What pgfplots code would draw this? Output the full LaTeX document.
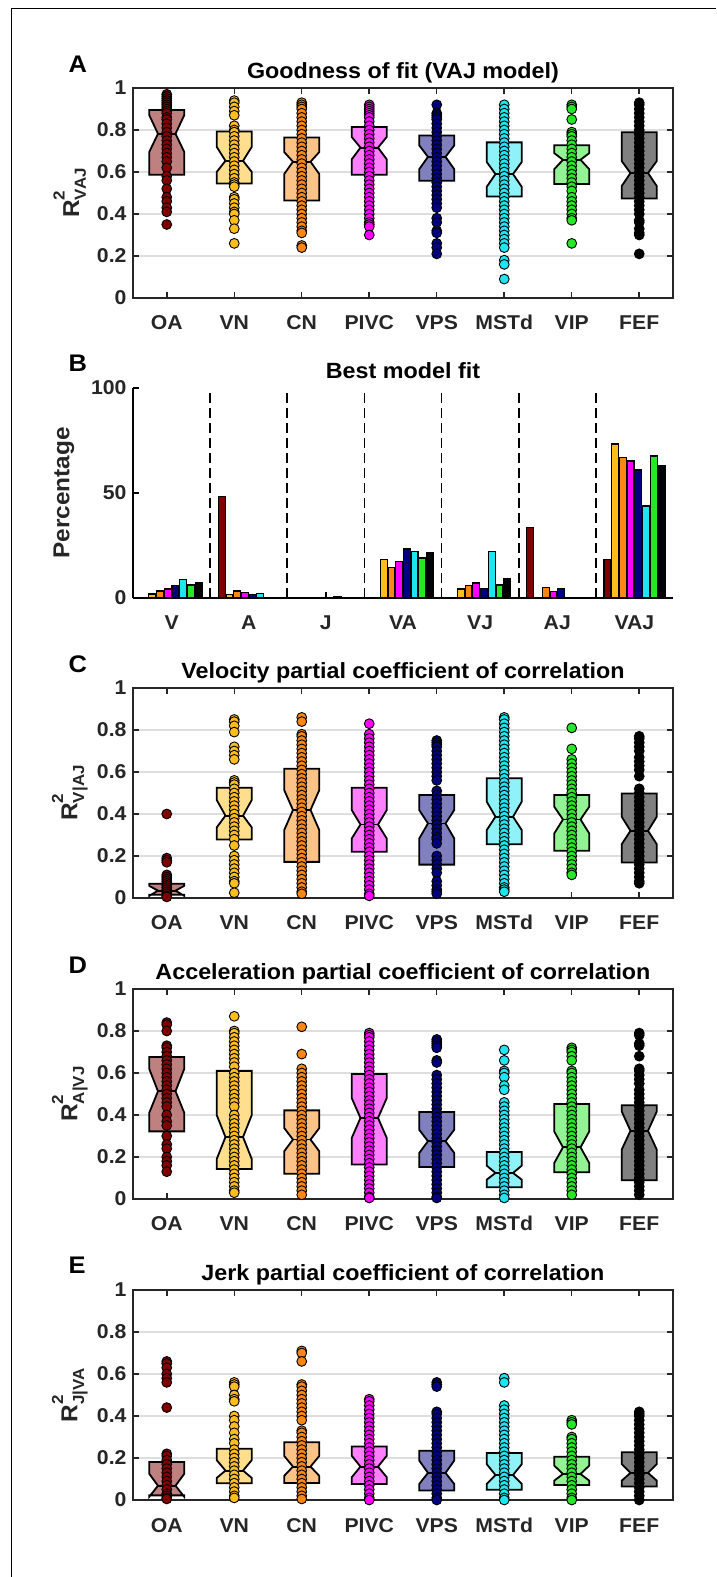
\documentclass[border=0pt]{standalone}
\usepackage{fontspec}
\setmainfont{Liberation Sans}[FakeStretch=1.06]
\usepackage{pgfplots}
\pgfplotsset{compat=1.18}

% area colours
\definecolor{cOA}{RGB}{128,0,0}
\definecolor{cVN}{RGB}{255,190,30}
\definecolor{cCN}{RGB}{250,135,20}
\definecolor{cPIVC}{RGB}{255,0,255}
\definecolor{cVPS}{RGB}{0,0,128}
\definecolor{cMSTd}{RGB}{30,230,240}
\definecolor{cVIP}{RGB}{40,230,40}
\definecolor{cFEF}{RGB}{0,0,0}
\definecolor{axgray}{RGB}{38,38,38}

\newcommand\tickfont{\fontsize{20}{20}\selectfont\bfseries}
\newcommand\titlefont{\fontsize{22}{22}\selectfont\bfseries}
\newcommand\letterfont{\fontsize{24}{24}\selectfont\bfseries}
\newcommand\labfont{\fontsize{23}{23}\selectfont\bfseries}

% R^2 with a subscript, set in text
\newcommand\Rlab[1]{R\makebox[0pt][l]{\raisebox{0.62em}{\fontsize{16}{16}\selectfont 2}}\raisebox{-0.30em}{\fontsize{16}{16}\selectfont #1}}

% notched box: x, q1, notch low, median, notch high, q3, colour
\newcommand\nbox[7]{%
  \pgfmathsetmacro\xa{#1-0.26}\pgfmathsetmacro\xb{#1+0.26}%
  \pgfmathsetmacro\xc{#1-0.13}\pgfmathsetmacro\xd{#1+0.13}%
  \edef\nboxcmd{\noexpand\addplot[draw=black, line width=1.8pt, fill=#7!50!white, line join=miter]
    coordinates {(\xa,#2) (\xa,#3) (\xc,#4) (\xa,#5) (\xa,#6) (\xb,#6) (\xb,#5) (\xd,#4) (\xb,#3) (\xb,#2)} -- cycle;
    \noexpand\addplot[draw=black, line width=1.8pt] coordinates {(\xc,#4) (\xd,#4)};}%
  \nboxcmd}

% individual cells of one area: x, colour, values
\newcommand\pts[3]{\addplot[only marks, mark=*, mark size=4.9pt,
   mark options={fill=#2, draw=black, line width=0.9pt}]
   table[row sep=\\, x expr=#1, y index=0] {#3};}

\pgfplotsset{
  boxpanel/.style={
    scale only axis, width=540pt, height=210pt, anchor=south west,
    xmin=0.5, xmax=8.5, ymin=0, ymax=1, clip=false,
    xtick={1,...,8}, xticklabels={OA,VN,CN,PIVC,VPS,MSTd,VIP,FEF},
    ytick={0,0.2,0.4,0.6,0.8,1}, yticklabels={0,0.2,0.4,0.6,0.8,1},
    tick align=inside, major tick length=6pt,
    ymajorgrids, grid style={draw=black!13, line width=1.4pt},
    axis line style={draw=axgray, line width=1.8pt},
    tick style={draw=axgray, line width=1.5pt},
    ticklabel style={font=\tickfont, text=axgray},
    xticklabel style={anchor=base, yshift=-32pt},
    yticklabel style={anchor=east, xshift=-3pt},
    every axis title shift=0pt,
    title style={font=\titlefont, anchor=base, at={(axis description cs:0.5,1)}, yshift=9pt},
    ylabel style={font=\labfont, text=axgray, at={(axis description cs:-0.117,0.5)}, anchor=center},
  },
}

\begin{document}
\begin{tikzpicture}[x=1pt,y=1pt]
\useasboundingbox (0,0) rectangle (716,1577);
\draw[line width=1pt] (11,0) -- (11,1568) -- (716,1568);

% ---------------- A: goodness of fit ----------------
\begin{axis}[boxpanel, at={(133pt,1279pt)}, title={Goodness of fit (VAJ model)}, ylabel={\Rlab{VAJ}}]
\nbox{1}{0.587}{0.695}{0.782}{0.871}{0.895}{cOA}
\nbox{2}{0.545}{0.60}{0.653}{0.72}{0.793}{cVN}
\nbox{3}{0.464}{0.59}{0.649}{0.695}{0.764}{cCN}
\nbox{4}{0.587}{0.66}{0.716}{0.767}{0.814}{cPIVC}
\nbox{5}{0.558}{0.613}{0.672}{0.727}{0.774}{cVPS}
\nbox{6}{0.483}{0.529}{0.590}{0.648}{0.741}{cMSTd}
\nbox{7}{0.543}{0.613}{0.658}{0.690}{0.727}{cVIP}
\nbox{8}{0.474}{0.533}{0.595}{0.652}{0.789}{cFEF}
\pts{1}{cOA}{0.97\\0.96\\0.95\\0.94\\0.93\\0.92\\0.91\\0.90\\0.89\\0.88\\0.86\\0.85\\0.83\\0.81\\0.79\\0.77\\0.75\\0.73\\0.71\\0.69\\0.67\\0.65\\0.62\\0.58\\0.56\\0.52\\0.48\\0.46\\0.43\\0.41\\0.35\\}
\pts{2}{cVN}{0.94\\0.93\\0.91\\0.89\\0.87\\0.82\\0.80\\0.79\\0.77\\0.75\\0.73\\0.71\\0.69\\0.67\\0.65\\0.63\\0.61\\0.59\\0.57\\0.55\\0.54\\0.53\\0.48\\0.47\\0.45\\0.43\\0.41\\0.40\\0.37\\0.33\\0.26\\}
\pts{3}{cCN}{0.93\\0.92\\0.91\\0.90\\0.88\\0.86\\0.84\\0.82\\0.80\\0.78\\0.76\\0.74\\0.72\\0.70\\0.68\\0.66\\0.64\\0.62\\0.60\\0.58\\0.56\\0.54\\0.52\\0.50\\0.48\\0.46\\0.44\\0.42\\0.40\\0.38\\0.36\\0.34\\0.32\\0.31\\0.25\\0.24\\}
\pts{4}{cPIVC}{0.92\\0.91\\0.90\\0.89\\0.88\\0.87\\0.86\\0.84\\0.82\\0.80\\0.78\\0.76\\0.74\\0.72\\0.70\\0.68\\0.66\\0.64\\0.62\\0.60\\0.58\\0.56\\0.54\\0.52\\0.50\\0.48\\0.46\\0.44\\0.42\\0.40\\0.38\\0.36\\0.35\\0.34\\0.30\\}
\pts{5}{cVPS}{0.92\\0.88\\0.87\\0.86\\0.85\\0.83\\0.81\\0.79\\0.77\\0.75\\0.73\\0.71\\0.69\\0.67\\0.65\\0.63\\0.61\\0.59\\0.57\\0.55\\0.53\\0.51\\0.49\\0.47\\0.45\\0.43\\0.38\\0.36\\0.32\\0.31\\0.26\\0.24\\0.21\\}
\pts{6}{cMSTd}{0.92\\0.90\\0.88\\0.86\\0.84\\0.82\\0.80\\0.78\\0.76\\0.74\\0.72\\0.70\\0.68\\0.66\\0.64\\0.62\\0.60\\0.58\\0.56\\0.54\\0.52\\0.50\\0.48\\0.46\\0.44\\0.42\\0.40\\0.38\\0.36\\0.34\\0.32\\0.30\\0.28\\0.26\\0.24\\0.18\\0.16\\0.09\\}
\pts{7}{cVIP}{0.92\\0.91\\0.90\\0.85\\0.79\\0.78\\0.77\\0.75\\0.73\\0.71\\0.69\\0.67\\0.65\\0.63\\0.61\\0.59\\0.57\\0.55\\0.53\\0.51\\0.48\\0.46\\0.44\\0.42\\0.40\\0.38\\0.37\\0.26\\}
\pts{8}{cFEF}{0.93\\0.92\\0.90\\0.88\\0.86\\0.84\\0.82\\0.80\\0.78\\0.76\\0.74\\0.72\\0.70\\0.68\\0.66\\0.64\\0.62\\0.60\\0.58\\0.56\\0.54\\0.52\\0.50\\0.48\\0.46\\0.44\\0.42\\0.40\\0.37\\0.36\\0.33\\0.31\\0.30\\0.21\\}
\end{axis}
\node[font=\letterfont, anchor=base west] at (65,1504) {A};

% ---------------- B: best model fit ----------------
\begin{axis}[scale only axis, width=540pt, height=210pt, anchor=south west, at={(133pt,979pt)},
  xmin=0.5, xmax=7.5, ymin=0, ymax=100, clip=false, axis lines*=left,
  xtick={1,...,7}, xticklabels={V,A,J,VA,VJ,AJ,VAJ},
  ytick={0,50,100}, yticklabels={0,50,100},
  tick align=inside, major tick length=6pt,
  axis line style={draw=black, line width=1.8pt},
  tick style={draw=black, line width=1.5pt},
  ticklabel style={font=\tickfont, text=axgray},
  xticklabel style={anchor=base, yshift=-32pt},
  yticklabel style={anchor=east, xshift=-3pt},
  every axis title shift=0pt,
  title style={font=\titlefont, anchor=base, at={(axis description cs:0.5,1)}, yshift=9pt},
  ylabel style={font=\labfont, text=axgray, at={(axis description cs:-0.128,0.5)}, anchor=center},
  title={Best model fit}, ylabel={Percentage}]
\addplot[black, line width=1.7pt, dash pattern=on 10pt off 5pt] coordinates {(1.5,0) (1.5,100)};
\addplot[black, line width=1.7pt, dash pattern=on 10pt off 5pt] coordinates {(2.5,0) (2.5,100)};
\addplot[black, line width=1.7pt, dash pattern=on 10pt off 5pt] coordinates {(3.5,0) (3.5,100)};
\addplot[black, line width=1.7pt, dash pattern=on 10pt off 5pt] coordinates {(4.5,0) (4.5,100)};
\addplot[black, line width=1.7pt, dash pattern=on 10pt off 5pt] coordinates {(5.5,0) (5.5,100)};
\addplot[black, line width=1.7pt, dash pattern=on 10pt off 5pt] coordinates {(6.5,0) (6.5,100)};
\addplot[ybar, bar width=0.09, bar shift=-0.35, fill=cOA, draw=black, line width=1.2pt] coordinates {(2,48.3) (6,33.5) (7,18.5)};
\addplot[ybar, bar width=0.09, bar shift=-0.25, fill=cVN, draw=black, line width=1.2pt] coordinates {(1,1.9) (2,1.6) (4,18.2) (5,4.3) (7,73.3)};
\addplot[ybar, bar width=0.09, bar shift=-0.15, fill=cCN, draw=black, line width=1.2pt] coordinates {(1,3.3) (2,3.3) (4,14.7) (5,6.0) (6,4.9) (7,66.9)};
\addplot[ybar, bar width=0.09, bar shift=-0.05, fill=cPIVC, draw=black, line width=1.2pt] coordinates {(1,4.3) (2,2.8) (4,17.4) (5,7.1) (6,3.2) (7,65.2)};
\addplot[ybar, bar width=0.09, bar shift=0.05, fill=cVPS, draw=black, line width=1.2pt] coordinates {(1,5.9) (2,1.6) (4,23.3) (5,4.4) (6,4.4) (7,60.9)};
\addplot[ybar, bar width=0.09, bar shift=0.15, fill=cMSTd, draw=black, line width=1.2pt] coordinates {(1,8.7) (2,2.1) (3,0.5) (4,22.2) (5,22.2) (7,43.8)};
\addplot[ybar, bar width=0.09, bar shift=0.25, fill=cVIP, draw=black, line width=1.2pt] coordinates {(1,6.2) (4,19.0) (5,6.2) (7,67.6)};
\addplot[ybar, bar width=0.09, bar shift=0.35, fill=cFEF, draw=black, line width=1.2pt] coordinates {(1,7.3) (4,21.4) (5,9.0) (7,63.0)};
\end{axis}
\node[font=\letterfont, anchor=base west] at (65,1205) {B};

% ---------------- C: velocity ----------------
\begin{axis}[boxpanel, at={(133pt,679pt)}, title={Velocity partial coefficient of correlation}, ylabel={\Rlab{V|AJ}}]
\nbox{1}{0.015}{0.010}{0.035}{0.058}{0.068}{cOA}
\nbox{2}{0.279}{0.336}{0.392}{0.467}{0.525}{cVN}
\nbox{3}{0.172}{0.323}{0.419}{0.514}{0.615}{cCN}
\nbox{4}{0.220}{0.283}{0.350}{0.419}{0.525}{cPIVC}
\nbox{5}{0.159}{0.283}{0.355}{0.419}{0.490}{cVPS}
\nbox{6}{0.256}{0.323}{0.387}{0.459}{0.570}{cMSTd}
\nbox{7}{0.225}{0.307}{0.374}{0.435}{0.490}{cVIP}
\nbox{8}{0.169}{0.256}{0.320}{0.387}{0.498}{cFEF}
\pts{1}{cOA}{0.40\\0.19\\0.18\\0.17\\0.11\\0.10\\0.09\\0.08\\0.07\\0.06\\0.05\\0.04\\0.03\\0.02\\0.01\\0.005\\}
\pts{2}{cVN}{0.85\\0.84\\0.82\\0.79\\0.72\\0.70\\0.68\\0.66\\0.56\\0.55\\0.54\\0.52\\0.50\\0.48\\0.46\\0.44\\0.42\\0.40\\0.38\\0.36\\0.34\\0.32\\0.30\\0.28\\0.25\\0.20\\0.18\\0.16\\0.14\\0.12\\0.10\\0.08\\0.07\\0.025\\}
\pts{3}{cCN}{0.86\\0.84\\0.78\\0.77\\0.75\\0.73\\0.71\\0.69\\0.67\\0.65\\0.63\\0.61\\0.59\\0.57\\0.55\\0.53\\0.51\\0.49\\0.47\\0.45\\0.43\\0.41\\0.39\\0.37\\0.35\\0.33\\0.31\\0.29\\0.27\\0.25\\0.23\\0.21\\0.19\\0.17\\0.15\\0.13\\0.11\\0.09\\0.07\\0.05\\0.03\\0.02\\}
\pts{4}{cPIVC}{0.83\\0.78\\0.76\\0.74\\0.72\\0.70\\0.68\\0.66\\0.64\\0.62\\0.60\\0.58\\0.56\\0.54\\0.52\\0.50\\0.48\\0.46\\0.44\\0.42\\0.40\\0.38\\0.36\\0.34\\0.32\\0.30\\0.28\\0.26\\0.24\\0.22\\0.20\\0.18\\0.16\\0.14\\0.12\\0.10\\0.08\\0.06\\0.04\\0.02\\0.01\\}
\pts{5}{cVPS}{0.75\\0.74\\0.73\\0.72\\0.70\\0.68\\0.66\\0.64\\0.62\\0.60\\0.58\\0.56\\0.51\\0.49\\0.47\\0.45\\0.43\\0.41\\0.39\\0.37\\0.35\\0.33\\0.31\\0.29\\0.28\\0.26\\0.20\\0.18\\0.16\\0.14\\0.12\\0.08\\0.06\\0.04\\0.03\\0.02\\}
\pts{6}{cMSTd}{0.86\\0.85\\0.83\\0.81\\0.79\\0.77\\0.75\\0.73\\0.71\\0.69\\0.67\\0.65\\0.63\\0.61\\0.59\\0.57\\0.55\\0.53\\0.51\\0.49\\0.47\\0.45\\0.43\\0.41\\0.39\\0.37\\0.35\\0.33\\0.31\\0.29\\0.27\\0.25\\0.23\\0.21\\0.19\\0.17\\0.15\\0.13\\0.11\\0.09\\0.07\\0.05\\0.04\\0.03\\}
\pts{7}{cVIP}{0.81\\0.71\\0.66\\0.64\\0.62\\0.60\\0.58\\0.56\\0.54\\0.52\\0.50\\0.48\\0.46\\0.44\\0.42\\0.40\\0.38\\0.36\\0.34\\0.32\\0.30\\0.28\\0.26\\0.24\\0.22\\0.20\\0.18\\0.16\\0.14\\0.12\\0.11\\}
\pts{8}{cFEF}{0.77\\0.76\\0.74\\0.72\\0.70\\0.67\\0.65\\0.63\\0.61\\0.58\\0.52\\0.50\\0.48\\0.46\\0.44\\0.42\\0.40\\0.38\\0.36\\0.34\\0.32\\0.30\\0.28\\0.26\\0.24\\0.22\\0.20\\0.18\\0.16\\0.14\\0.12\\0.10\\0.08\\0.07\\}
\end{axis}
\node[font=\letterfont, anchor=base west] at (65,904) {C};

% ---------------- D: acceleration ----------------
\begin{axis}[boxpanel, at={(133pt,378pt)}, title={Acceleration partial coefficient of correlation}, ylabel={\Rlab{A|VJ}}]
\nbox{1}{0.322}{0.410}{0.513}{0.620}{0.676}{cOA}
\nbox{2}{0.143}{0.190}{0.295}{0.400}{0.610}{cVN}
\nbox{3}{0.120}{0.227}{0.283}{0.338}{0.422}{cCN}
\nbox{4}{0.164}{0.290}{0.386}{0.481}{0.595}{cPIVC}
\nbox{5}{0.152}{0.219}{0.275}{0.330}{0.414}{cVPS}
\nbox{6}{0.056}{0.092}{0.124}{0.159}{0.224}{cMSTd}
\nbox{7}{0.127}{0.171}{0.246}{0.322}{0.452}{cVIP}
\nbox{8}{0.089}{0.235}{0.325}{0.417}{0.446}{cFEF}
\pts{1}{cOA}{0.84\\0.83\\0.80\\0.73\\0.72\\0.70\\0.68\\0.66\\0.64\\0.62\\0.60\\0.58\\0.56\\0.54\\0.52\\0.50\\0.48\\0.46\\0.44\\0.40\\0.37\\0.35\\0.30\\0.26\\0.24\\0.20\\0.18\\0.16\\0.13\\}
\pts{2}{cVN}{0.87\\0.80\\0.79\\0.77\\0.75\\0.73\\0.71\\0.69\\0.67\\0.65\\0.63\\0.60\\0.58\\0.56\\0.54\\0.52\\0.50\\0.48\\0.46\\0.44\\0.40\\0.38\\0.36\\0.34\\0.32\\0.30\\0.28\\0.26\\0.24\\0.22\\0.20\\0.18\\0.16\\0.14\\0.12\\0.10\\0.08\\0.06\\0.04\\0.03\\}
\pts{3}{cCN}{0.82\\0.69\\0.62\\0.60\\0.58\\0.56\\0.54\\0.52\\0.50\\0.48\\0.46\\0.44\\0.42\\0.40\\0.38\\0.36\\0.34\\0.32\\0.30\\0.28\\0.26\\0.24\\0.22\\0.20\\0.18\\0.16\\0.14\\0.12\\0.10\\0.08\\0.06\\0.04\\0.02\\}
\pts{4}{cPIVC}{0.79\\0.78\\0.77\\0.75\\0.73\\0.71\\0.69\\0.67\\0.65\\0.63\\0.61\\0.59\\0.57\\0.55\\0.53\\0.51\\0.49\\0.47\\0.45\\0.43\\0.41\\0.39\\0.37\\0.35\\0.33\\0.31\\0.29\\0.27\\0.25\\0.23\\0.21\\0.19\\0.17\\0.15\\0.13\\0.11\\0.09\\0.07\\0.05\\0.03\\0.01\\0.005\\}
\pts{5}{cVPS}{0.76\\0.75\\0.74\\0.73\\0.72\\0.66\\0.65\\0.59\\0.57\\0.55\\0.53\\0.51\\0.49\\0.47\\0.45\\0.43\\0.41\\0.39\\0.37\\0.35\\0.33\\0.31\\0.29\\0.27\\0.25\\0.23\\0.21\\0.19\\0.17\\0.15\\0.13\\0.11\\0.09\\0.07\\0.05\\0.03\\0.01\\0.005\\}
\pts{6}{cMSTd}{0.71\\0.66\\0.61\\0.60\\0.58\\0.54\\0.52\\0.46\\0.44\\0.42\\0.40\\0.38\\0.36\\0.34\\0.32\\0.30\\0.28\\0.26\\0.24\\0.22\\0.20\\0.18\\0.16\\0.14\\0.12\\0.10\\0.08\\0.06\\0.04\\0.02\\0.005\\}
\pts{7}{cVIP}{0.72\\0.71\\0.70\\0.68\\0.66\\0.61\\0.60\\0.58\\0.56\\0.54\\0.52\\0.50\\0.48\\0.46\\0.44\\0.42\\0.40\\0.38\\0.36\\0.34\\0.32\\0.30\\0.28\\0.26\\0.24\\0.22\\0.20\\0.18\\0.16\\0.14\\0.12\\0.10\\0.08\\0.06\\0.04\\0.02\\}
\pts{8}{cFEF}{0.79\\0.78\\0.74\\0.73\\0.68\\0.62\\0.61\\0.59\\0.57\\0.55\\0.52\\0.50\\0.48\\0.46\\0.44\\0.42\\0.40\\0.38\\0.36\\0.34\\0.32\\0.30\\0.28\\0.26\\0.24\\0.22\\0.20\\0.18\\0.16\\0.14\\0.12\\0.10\\0.08\\0.06\\0.04\\0.02\\}
\end{axis}
\node[font=\letterfont, anchor=base west] at (65,603) {D};

% ---------------- E: jerk ----------------
\begin{axis}[boxpanel, at={(133pt,77pt)}, title={Jerk partial coefficient of correlation}, ylabel={\Rlab{J|VA}}]
\nbox{1}{0.022}{0.015}{0.068}{0.125}{0.181}{cOA}
\nbox{2}{0.080}{0.105}{0.140}{0.190}{0.244}{cVN}
\nbox{3}{0.081}{0.115}{0.159}{0.210}{0.275}{cCN}
\nbox{4}{0.076}{0.108}{0.159}{0.211}{0.255}{cPIVC}
\nbox{5}{0.045}{0.076}{0.129}{0.188}{0.235}{cVPS}
\nbox{6}{0.049}{0.076}{0.119}{0.171}{0.224}{cMSTd}
\nbox{7}{0.071}{0.092}{0.124}{0.164}{0.206}{cVIP}
\nbox{8}{0.064}{0.092}{0.129}{0.171}{0.227}{cFEF}
\pts{1}{cOA}{0.66\\0.65\\0.63\\0.60\\0.58\\0.56\\0.44\\0.22\\0.21\\0.19\\0.17\\0.15\\0.13\\0.11\\0.09\\0.07\\0.05\\0.03\\0.02\\0.01\\0.005\\}
\pts{2}{cVN}{0.56\\0.55\\0.54\\0.50\\0.48\\0.47\\0.40\\0.38\\0.35\\0.32\\0.29\\0.27\\0.24\\0.22\\0.20\\0.18\\0.16\\0.14\\0.12\\0.10\\0.08\\0.06\\0.04\\0.02\\0.01\\}
\pts{3}{cCN}{0.71\\0.70\\0.66\\0.55\\0.54\\0.52\\0.50\\0.48\\0.46\\0.44\\0.42\\0.40\\0.38\\0.33\\0.32\\0.30\\0.28\\0.26\\0.24\\0.22\\0.20\\0.18\\0.16\\0.14\\0.12\\0.10\\0.08\\0.06\\0.04\\0.02\\0.005\\}
\pts{4}{cPIVC}{0.48\\0.47\\0.45\\0.43\\0.41\\0.39\\0.37\\0.35\\0.33\\0.31\\0.29\\0.27\\0.25\\0.23\\0.21\\0.19\\0.17\\0.15\\0.13\\0.11\\0.09\\0.07\\0.05\\0.03\\0.01\\0.0\\}
\pts{5}{cVPS}{0.56\\0.55\\0.54\\0.42\\0.41\\0.39\\0.37\\0.35\\0.33\\0.31\\0.29\\0.27\\0.25\\0.23\\0.21\\0.19\\0.17\\0.15\\0.13\\0.11\\0.09\\0.07\\0.05\\0.03\\0.01\\0.0\\}
\pts{6}{cMSTd}{0.58\\0.56\\0.45\\0.43\\0.41\\0.39\\0.37\\0.35\\0.33\\0.31\\0.29\\0.27\\0.25\\0.23\\0.21\\0.19\\0.17\\0.15\\0.13\\0.11\\0.09\\0.07\\0.05\\0.03\\0.01\\0.0\\}
\pts{7}{cVIP}{0.38\\0.37\\0.36\\0.30\\0.29\\0.27\\0.25\\0.23\\0.21\\0.19\\0.17\\0.15\\0.13\\0.11\\0.09\\0.07\\0.05\\0.03\\0.01\\0.0\\}
\pts{8}{cFEF}{0.42\\0.41\\0.40\\0.38\\0.36\\0.34\\0.32\\0.30\\0.28\\0.26\\0.24\\0.22\\0.20\\0.18\\0.16\\0.14\\0.12\\0.10\\0.08\\0.06\\0.04\\0.02\\0.0\\}
\end{axis}
\node[font=\letterfont, anchor=base west] at (65,303) {E};
\end{tikzpicture}
\end{document}
